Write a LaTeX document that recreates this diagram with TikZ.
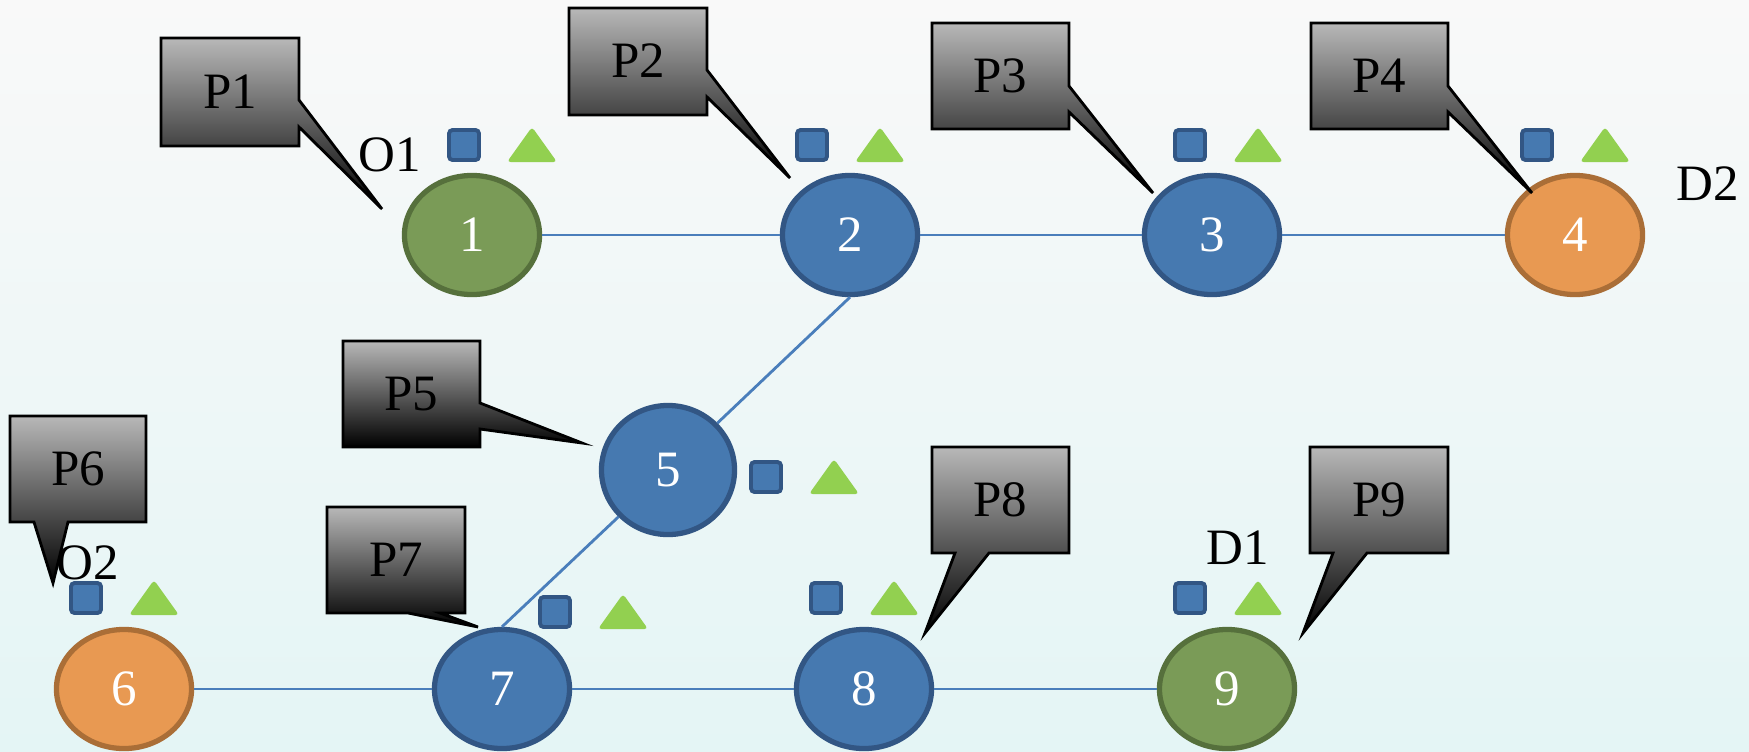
\documentclass[tikz,border=0pt]{standalone}
\usepackage{fontspec}
\setmainfont{Liberation Serif}
\usepackage{tikz}
\usetikzlibrary{shapes.geometric}
\usepackage{xcolor}

\definecolor{bgtop}{RGB}{249,249,249}
\definecolor{bgmid}{RGB}{243,243,243}
\definecolor{bgbottom}{RGB}{228,245,245}
\definecolor{siteblue}{RGB}{70,121,176}
\definecolor{siteblueline}{RGB}{50,86,132}
\definecolor{sitegreen}{RGB}{122,155,87}
\definecolor{sitegreenline}{RGB}{86,112,60}
\definecolor{siteorange}{RGB}{232,153,82}
\definecolor{siteorangeline}{RGB}{170,110,55}
\definecolor{flaggreen}{RGB}{146,208,80}
\definecolor{linkblue}{RGB}{74,126,187}
\definecolor{bubbletop}{RGB}{184,184,184}

\begin{document}
\begin{tikzpicture}[x=0.01cm, y=-0.01cm,
    every node/.style={font=\fontsize{14.5}{16}\selectfont},
    site/.style={ellipse, line width=1.5pt, text=white, inner sep=0pt,
        minimum width=1.35cm, minimum height=1.19cm},
    bluesite/.style={site, draw=siteblueline, fill=siteblue},
    greensite/.style={site, draw=sitegreenline, fill=sitegreen},
    orangesite/.style={site, draw=siteorangeline, fill=siteorange},
    link/.style={linkblue, line width=0.8pt},
    bubble/.style={top color=bubbletop, bottom color=black, draw=black, line width=0.8pt},
    flagsq/.style={fill=siteblue, draw=siteblueline, line width=1.1pt, rounded corners=1pt},
    flagtri/.style={fill=flaggreen, rounded corners=1pt}]
    \useasboundingbox (0,0) rectangle (1749,751);
    % background
    \shade[top color=bgtop, middle color=bgmid, bottom color=bgbottom] (0,0) rectangle (1749,751);

    % sites
    \node[greensite] (n1) at (472,235) {1};
    \node[bluesite] (n2) at (850,235) {2};
    \node[bluesite] (n3) at (1212,235) {3};
    \node[orangesite] (n4) at (1575,235) {4};
    \node[bluesite, minimum width=1.33cm, minimum height=1.29cm] (n5) at (668,470) {5};
    \node[orangesite] (n6) at (124,689) {6};
    \node[bluesite] (n7) at (502,689) {7};
    \node[bluesite] (n8) at (864,689) {8};
    \node[greensite] (n9) at (1227,689) {9};

    % links
    \draw[link] (n1) -- (n2);
    \draw[link] (n2) -- (n3);
    \draw[link] (n3) -- (n4);
    \draw[link] (n2.south) -- (n5);
    \draw[link] (n5) -- (n7.north);
    \draw[link] (n6) -- (n7);
    \draw[link] (n7) -- (n8);
    \draw[link] (n8) -- (n9);

    % square and triangle marks
    \foreach \x/\y in {464/145, 812/145, 1190/145, 1537/145, 766/477, 86/598, 555/612, 826/598, 1190/598} {
        \draw[flagsq] (\x-15,\y-15) rectangle (\x+15,\y+15);
        \fill[flagtri] (\x+43,\y+17) -- (\x+93,\y+17) -- (\x+68,\y-18) -- cycle;
    }

    % origin and destination labels
    \node (o1) at (390,155) {O1};
    \node (d2) at (1708,184) {D2};
    \node (o2) at (88,563) {O2};
    \node (d1) at (1238,548) {D1};

    % callouts
    \path[bubble] (161,38) -- (299,38) -- (299,100) -- (382,209) -- (299,127) -- (299,146) -- (161,146) -- cycle;
    \path[bubble] (569,8) -- (707,8) -- (707,70) -- (790,178) -- (707,97) -- (707,115) -- (569,115) -- cycle;
    \path[bubble] (932,23) -- (1069,23) -- (1069,86) -- (1153,193) -- (1069,112) -- (1069,129) -- (932,129) -- cycle;
    \path[bubble] (1311,23) -- (1448,23) -- (1448,86) -- (1532,193) -- (1448,112) -- (1448,129) -- (1311,129) -- cycle;
    \path[bubble] (343,341) -- (480,341) -- (480,403) -- (582,443) -- (480,429) -- (480,447) -- (343,447) -- cycle;
    \path[bubble] (10,416) -- (146,416) -- (146,522) -- (68,522) -- (53,583) -- (34,522) -- (10,522) -- cycle;
    \path[bubble] (327,507) -- (465,507) -- (465,613) -- (440,613) -- (478,627) -- (408,613) -- (327,613) -- cycle;
    \path[bubble] (932,447) -- (1069,447) -- (1069,553) -- (989,553) -- (925,633) -- (955,553) -- (932,553) -- cycle;
    \path[bubble] (1310,447) -- (1448,447) -- (1448,553) -- (1367,553) -- (1303,633) -- (1333,553) -- (1310,553) -- cycle;
    \node (p1) at (230,92) {P1};
    \node (p2) at (638,61) {P2};
    \node (p3) at (1000,76) {P3};
    \node (p4) at (1379,76) {P4};
    \node (p5) at (411,394) {P5};
    \node (p6) at (78,469) {P6};
    \node (p7) at (396,560) {P7};
    \node (p8) at (1000,500) {P8};
    \node (p9) at (1379,500) {P9};
\end{tikzpicture}
\end{document}
